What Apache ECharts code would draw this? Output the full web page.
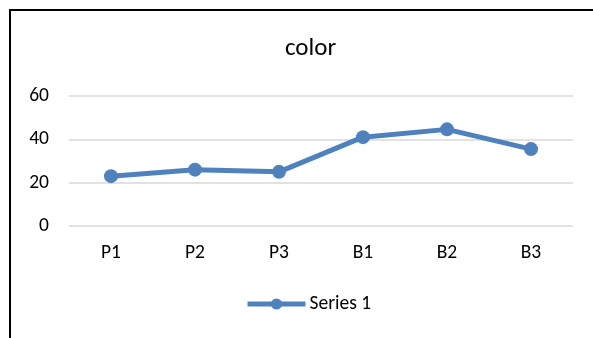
<!DOCTYPE html>
<html>
<head>
<meta charset="utf-8">
<script src="https://cdn.jsdelivr.net/npm/echarts@6/dist/echarts.min.js"></script>
<style>
  html, body { margin: 0; padding: 0; background: #fff; }
  #frame { position: absolute; left: 9px; top: 9px; width: 700px; height: 400px;
           border: 2px solid #000; box-sizing: border-box; }
  #chart { position: absolute; left: 0; top: 0; width: 593px; height: 338px; }
</style>
</head>
<body>
<div id="frame"></div>
<div id="chart"></div>
<script>
const categories = ['P1', 'P2', 'P3', 'B1', 'B2', 'B3'];
const series1 = [23, 26, 25, 41, 44.6, 35.5];
const yTicks = { min: 0, max: 60, interval: 20 };

const font = 'Calibri, Carlito, "Open Sans", "Liberation Sans", sans-serif';
const chart = echarts.init(document.getElementById('chart'), null, { renderer: 'canvas' });
chart.setOption({
  animation: false,
  backgroundColor: 'transparent',
  title: {
    text: 'color',
    left: 305.5, top: 31, textAlign: 'center',
    textStyle: { fontFamily: font, fontSize: 25, fontWeight: 'normal', color: '#000' }
  },
  legend: {
    data: ['Series 1'],
    left: 240, top: 289,
    itemWidth: 58, itemHeight: 14, itemGap: 4,
    lineStyle: { width: 5 },
    textStyle: { fontFamily: font, fontSize: 19.5, color: '#000', padding: [0, 0, 0, -1] }
  },
  grid: { left: 69, right: 20, top: 96, bottom: 112 },
  xAxis: {
    type: 'category',
    data: categories,
    boundaryGap: true,
    axisLine: { show: false },
    axisTick: { show: false },
    axisLabel: { fontFamily: font, fontSize: 19.5, color: '#000', margin: 17 }
  },
  yAxis: {
    type: 'value',
    min: yTicks.min, max: yTicks.max, interval: yTicks.interval,
    axisLine: { show: false },
    axisTick: { show: false },
    splitLine: { lineStyle: { color: '#d9d9d9', width: 1.5 } },
    axisLabel: { fontFamily: font, fontSize: 19.5, color: '#000', margin: 20 }
  },
  series: [{
    name: 'Series 1',
    type: 'line',
    data: series1,
    symbol: 'circle',
    symbolSize: 14,
    lineStyle: { color: '#4f81bd', width: 5 },
    itemStyle: { color: '#4f81bd' }
  }]
});
</script>
</body>
</html>
